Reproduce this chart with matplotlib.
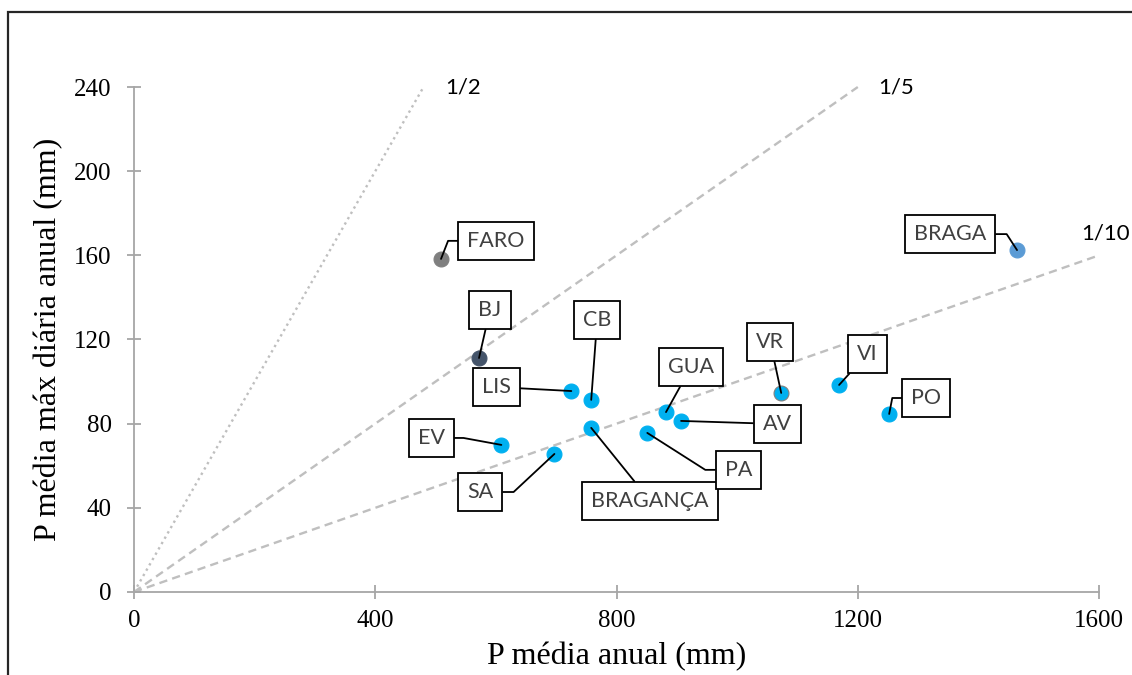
import matplotlib
matplotlib.use("Agg")
import matplotlib.pyplot as plt
from matplotlib.patches import Rectangle

# Stations: mean annual precipitation vs mean annual maximum daily precipitation (mm)
stations = ["FARO", "BJ", "LIS", "CB", "GUA", "AV", "BRAGANÇA", "PA", "EV", "SA",
            "VR", "VI", "PO", "BRAGA"]
p_annual = [509, 572, 725, 758, 882, 907, 758, 851, 609, 697, 1073, 1169, 1252, 1464]
p_maxdaily = [158.3, 111.2, 95.5, 91.3, 85.5, 81.3, 78.0, 75.6, 69.9, 65.6,
              94.6, 98.4, 84.6, 162.5]

# Reference ratio lines (max daily / annual)
ratio_labels = ["1/2", "1/5", "1/10"]
ratio_values = [1 / 2, 1 / 5, 1 / 10]
ratio_x_end = [480, 1200, 1600]

x_ticks = [0, 400, 800, 1200, 1600]
y_ticks = [0, 40, 80, 120, 160, 200, 240]

# ---- styling -------------------------------------------------------------
point_colors = {"FARO": "#7F7F7F", "BJ": "#44546A", "BRAGA": "#5B9BD5"}
default_color = "#00B0F0"
axis_grey = "#A6A6A6"
ratio_grey = "#BFBFBF"
label_font = ["Lato", "DejaVu Sans"]
serif_font = ["Liberation Serif", "DejaVu Serif"]

# label box offsets from each point (points) and optional elbow angle of the leader
label_layout = {
    "FARO": ((39.6, 13.0), 68.7),
    "BJ": ((7.9, 34.6), None),
    "LIS": ((-54.0, 2.9), None),
    "CB": ((4.3, 57.6), None),
    "GUA": ((18.0, 32.4), None),
    "AV": ((69.1, -2.2), None),
    "BRAGANÇA": ((42.5, -52.6), None),
    "PA": ((65.5, -26.6), -32.5),
    "EV": ((-50.4, 5.0), -10.4),
    "SA": ((-53.3, -27.4), 43.0),
    "VR": ((-7.9, 36.7), None),
    "VI": ((20.2, 22.3), None),
    "PO": ((26.6, 11.5), 79.0),
    "BRAGA": ((-48.2, 11.5), 123.0),
}
ratio_text_offsets = {"1/2": (28.8, 0.0), "1/5": (27.4, 0.0), "1/10": (5.0, 15.8)}
ratio_styles = {"1/2": (0, (1, 1.6)), "1/5": (0, (3.5, 2.2)), "1/10": (0, (3.5, 2.2))}

fig = plt.figure(figsize=(11.32, 6.75), dpi=100)
ax = fig.add_axes([0.1184, 0.1230, 0.8525, 0.7481])

# outer frame of the figure
fig.patches.append(Rectangle((8 / 1132, -0.1), 1.2, (675 - 12) / 675 + 0.1,
                             transform=fig.transFigure, fill=False,
                             edgecolor="#262626", linewidth=1.6, zorder=0))

# ratio lines
for lab, r, xe in zip(ratio_labels, ratio_values, ratio_x_end):
    ax.plot([0, xe], [0, r * xe], color=ratio_grey, linewidth=1.7,
            linestyle=ratio_styles[lab], zorder=1, clip_on=False)
    ax.annotate(lab, xy=(xe, r * xe), xytext=ratio_text_offsets[lab],
                textcoords="offset points", ha="center", va="center",
                fontsize=16, family=label_font, color="black",
                annotation_clip=False)

# points
for name, xv, yv in zip(stations, p_annual, p_maxdaily):
    c = point_colors.get(name, default_color)
    ec = "#7F7F7F" if name == "VR" else c
    ax.scatter([xv], [yv], s=115, color=c, edgecolors=ec, linewidths=0.8,
               zorder=3)

# callout labels
for name, xv, yv in zip(stations, p_annual, p_maxdaily):
    (dx, dy), angle = label_layout[name]
    if angle is None:
        cs = "arc3,rad=0"
    else:
        cs = f"angle,angleA=0,angleB={angle},rad=0"
    ax.annotate(name, xy=(xv, yv), xytext=(dx, dy), textcoords="offset points",
                ha="center", va="center", fontsize=15.5, family=label_font,
                color="#404040",
                bbox=dict(boxstyle="square,pad=0.42", facecolor="white",
                          edgecolor="black", linewidth=1.3),
                arrowprops=dict(arrowstyle="-", color="black", linewidth=1.3,
                                connectionstyle=cs, shrinkA=0, shrinkB=0),
                zorder=4)

ax.set_xlim(0, 1600)
ax.set_ylim(0, 240)
ax.set_xticks(x_ticks)
ax.set_yticks(y_ticks)
for s in ["top", "right"]:
    ax.spines[s].set_visible(False)
for s in ["left", "bottom"]:
    ax.spines[s].set_color(axis_grey)
    ax.spines[s].set_linewidth(1.3)
ax.tick_params(direction="inout", length=10, width=1.3, color=axis_grey,
               labelsize=18)
ax.tick_params(axis="y", pad=11)
ax.tick_params(axis="x", pad=8)
for t in ax.get_xticklabels() + ax.get_yticklabels():
    t.set_family(serif_font)

ax.set_xlabel("P média anual (mm)", fontsize=23, family=serif_font, labelpad=7)
ax.set_ylabel("P média máx diária anual (mm)", fontsize=23, family=serif_font,
              labelpad=8)

fig.savefig("out.png", dpi=100)
